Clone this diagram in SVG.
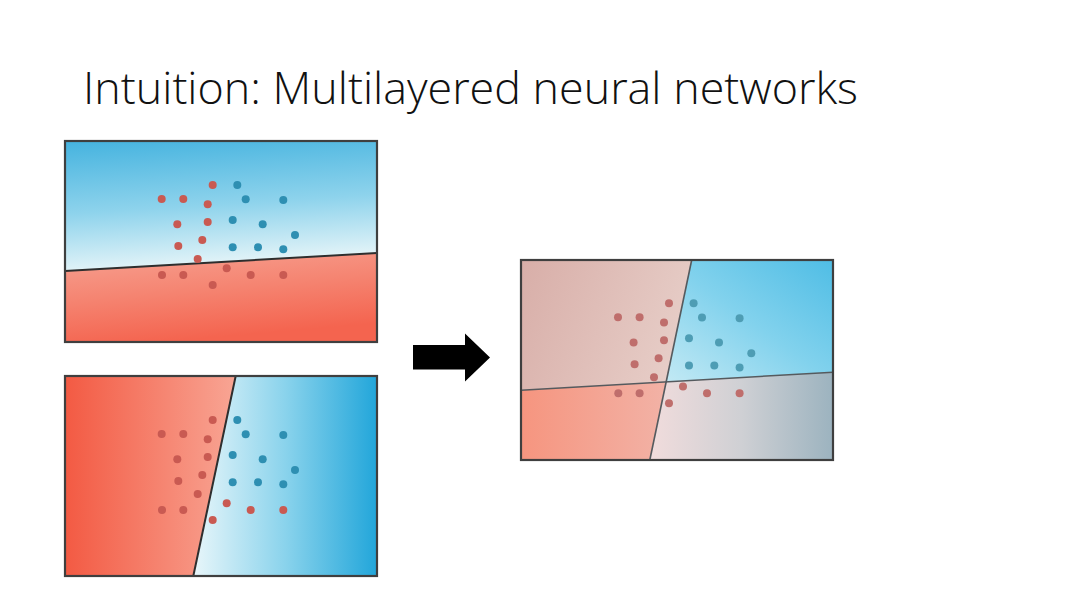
<svg xmlns="http://www.w3.org/2000/svg" width="1080" height="608" viewBox="0 0 1080 608">
<style>
.frame{fill:none;stroke:#3f3f3f;stroke-width:2.2}
.sep{fill:none;stroke:#2e2e2e;stroke-width:2}
.sep3{fill:none;stroke:#555a5e;stroke-width:1.6}
.r{fill:#c95a52}
.b{fill:#2e8fb2}
.r3{fill:#bf6e6c}
.b3{fill:#4e9db4}
.title{font-family:"Open Sans","Liberation Sans",sans-serif;font-weight:300;font-size:45px;fill:#111}
</style>
<defs>
<linearGradient id="p1top" x1="0" y1="0" x2="0.15" y2="1">
<stop offset="0" stop-color="#45b3df"/>
<stop offset="0.55" stop-color="#8ed3ec"/>
<stop offset="1" stop-color="#e4f4f8"/>
</linearGradient>
<linearGradient id="p1bot" x1="0" y1="0" x2="0.3" y2="1">
<stop offset="0" stop-color="#f7a191"/>
<stop offset="0.5" stop-color="#f58471"/>
<stop offset="1" stop-color="#f4644f"/>
</linearGradient>
<linearGradient id="p2left" x1="0" y1="0" x2="1" y2="0">
<stop offset="0" stop-color="#f35a43"/>
<stop offset="1" stop-color="#f8a594"/>
</linearGradient>
<linearGradient id="p2right" x1="0" y1="0" x2="1" y2="0">
<stop offset="0" stop-color="#e8f6fa"/>
<stop offset="0.5" stop-color="#8ad3ec"/>
<stop offset="1" stop-color="#22a6da"/>
</linearGradient>
<linearGradient id="q1" x1="0" y1="0" x2="1" y2="0.3">
<stop offset="0" stop-color="#d8aea8"/>
<stop offset="1" stop-color="#e6ccc6"/>
</linearGradient>
<linearGradient id="q2" x1="0" y1="1" x2="1" y2="0">
<stop offset="0" stop-color="#c2e9f4"/>
<stop offset="0.5" stop-color="#82d2ed"/>
<stop offset="1" stop-color="#4fbde5"/>
</linearGradient>
<linearGradient id="q3" x1="0" y1="0" x2="1" y2="0">
<stop offset="0" stop-color="#f6957f"/>
<stop offset="1" stop-color="#f2b2a6"/>
</linearGradient>
<linearGradient id="q4" x1="0" y1="0" x2="1" y2="0">
<stop offset="0" stop-color="#f1dcdc"/>
<stop offset="0.5" stop-color="#cfd0d4"/>
<stop offset="1" stop-color="#9cb3bf"/>
</linearGradient>
<g id="dotsRB">
<circle class="r" cx="212.7" cy="185" r="4"/>
<circle class="b" cx="237.3" cy="185" r="4"/>
<circle class="r" cx="161.7" cy="199" r="4"/>
<circle class="r" cx="183.3" cy="199" r="4"/>
<circle class="r" cx="207.7" cy="204.3" r="4"/>
<circle class="b" cx="245.7" cy="199.3" r="4"/>
<circle class="b" cx="283.3" cy="200" r="4"/>
<circle class="r" cx="177.3" cy="224.3" r="4"/>
<circle class="r" cx="207.7" cy="222" r="4"/>
<circle class="b" cx="232.7" cy="220" r="4"/>
<circle class="b" cx="262.7" cy="224.3" r="4"/>
<circle class="b" cx="295" cy="235" r="4"/>
<circle class="r" cx="178.3" cy="246" r="4"/>
<circle class="r" cx="202.3" cy="240" r="4"/>
<circle class="b" cx="232.7" cy="247.3" r="4"/>
<circle class="b" cx="258" cy="247.3" r="4"/>
<circle class="b" cx="283.3" cy="249.3" r="4"/>
<circle class="r" cx="197.7" cy="259" r="4"/>
<circle class="r" cx="226.7" cy="268.3" r="4"/>
<circle class="r" cx="162" cy="275" r="4"/>
<circle class="r" cx="183.3" cy="275" r="4"/>
<circle class="r" cx="250.7" cy="275" r="4"/>
<circle class="r" cx="283.3" cy="275" r="4"/>
<circle class="r" cx="212.7" cy="285" r="4"/>
</g>
</defs>
<rect width="1080" height="608" fill="#ffffff"/>
<text class="title" x="83" y="104" textLength="775" lengthAdjust="spacingAndGlyphs">Intuition: Multilayered neural networks</text>

<g id="panel-top">
<polygon points="65,141 377,141 377,253 65,271" fill="url(#p1top)"/>
<polygon points="65,271 377,253 377,342 65,342" fill="url(#p1bot)"/>
<line class="sep" x1="65" y1="271" x2="377" y2="253"/>
<use href="#dotsRB"/>
<rect class="frame" x="65" y="141" width="312" height="201"/>
</g>

<g id="panel-bottom">
<polygon points="65,376 235.7,376 193.3,576 65,576" fill="url(#p2left)"/>
<polygon points="235.7,376 377,376 377,576 193.3,576" fill="url(#p2right)"/>
<line class="sep" x1="235.7" y1="376" x2="193.3" y2="576"/>
<use href="#dotsRB" transform="translate(0,235)"/>
<rect class="frame" x="65" y="376" width="312" height="200"/>
</g>

<g id="arrow">
<polygon points="413,345 465,345 465,333.5 490,357.5 465,381.5 465,369.5 413,369.5" fill="#000"/>
</g>

<g id="panel-result">
<polygon points="521,260 691.7,260 666.2,381.8 521,390.2" fill="url(#q1)"/>
<polygon points="691.7,260 833,260 833,372.2 666.2,381.8" fill="url(#q2)"/>
<polygon points="521,390.2 666.2,381.8 649.8,460 521,460" fill="url(#q3)"/>
<polygon points="666.2,381.8 833,372.2 833,460 649.8,460" fill="url(#q4)"/>
<line class="sep3" x1="691.7" y1="260" x2="649.8" y2="460"/>
<line class="sep3" x1="521" y1="390.2" x2="833" y2="372.2"/>
<g transform="translate(456.3,118.3)">
<circle class="r3" cx="212.7" cy="185" r="4"/>
<circle class="b3" cx="237.3" cy="185" r="4"/>
<circle class="r3" cx="161.7" cy="199" r="4"/>
<circle class="r3" cx="183.3" cy="199" r="4"/>
<circle class="r3" cx="207.7" cy="204.3" r="4"/>
<circle class="b3" cx="245.7" cy="199.3" r="4"/>
<circle class="b3" cx="283.3" cy="200" r="4"/>
<circle class="r3" cx="177.3" cy="224.3" r="4"/>
<circle class="r3" cx="207.7" cy="222" r="4"/>
<circle class="b3" cx="232.7" cy="220" r="4"/>
<circle class="b3" cx="262.7" cy="224.3" r="4"/>
<circle class="b3" cx="295" cy="235" r="4"/>
<circle class="r3" cx="178.3" cy="246" r="4"/>
<circle class="r3" cx="202.3" cy="240" r="4"/>
<circle class="b3" cx="232.7" cy="247.3" r="4"/>
<circle class="b3" cx="258" cy="247.3" r="4"/>
<circle class="b3" cx="283.3" cy="249.3" r="4"/>
<circle class="r3" cx="197.7" cy="259" r="4"/>
<circle class="r3" cx="226.7" cy="268.3" r="4"/>
<circle class="r3" cx="162" cy="275" r="4"/>
<circle class="r3" cx="183.3" cy="275" r="4"/>
<circle class="r3" cx="250.7" cy="275" r="4"/>
<circle class="r3" cx="283.3" cy="275" r="4"/>
<circle class="r3" cx="212.7" cy="285" r="4"/>
</g>
<rect class="frame" x="521" y="260" width="312" height="200" stroke="#5a5a5a"/>
</g>
</svg>
